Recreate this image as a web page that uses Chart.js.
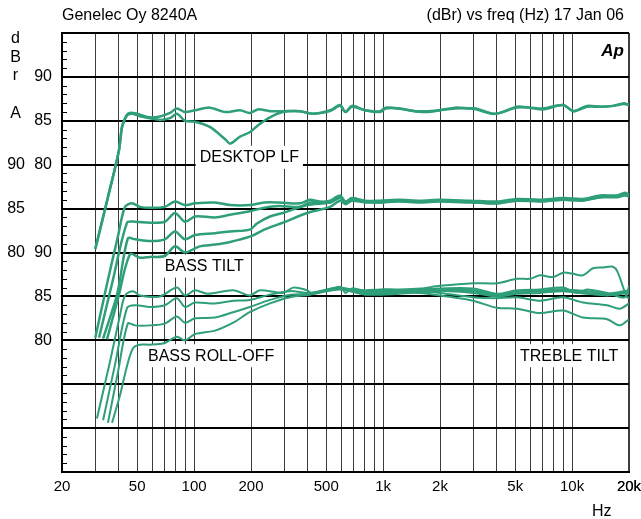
<!DOCTYPE html>
<html lang="en">
<head>
<meta charset="UTF-8">
<title>Genelec Oy 8240A</title>
<script src="https://cdn.jsdelivr.net/npm/chart.js@4"></script>
<style>
  html, body { margin: 0; padding: 0; background: #fff; }
  #wrap { position: relative; width: 641px; height: 519px; }
</style>
</head>
<body>
<div id="wrap"><canvas id="fr"></canvas></div>
<script>
// --- curves, [Hz, dB] read against each group's own dB labels ---
const desktopA = [[30,70.4],[35,76.3],[40,81.6],[41.5,84.3],[43.1,85.3],[44.6,85.8],[47.5,85.9],[51.7,85.7],[58.4,85.4],[66,85.5],[74.6,85.9],[81,86.4],[89.5,86.0],[101,86.2],[121,86.5],[146,86.0],[175,86.2],[197,85.9],[218,86.3],[252,86.1],[295,86.1],[363,86.1],[426,85.8],[524,86.2],[592,86.8],[632,86.0],[684,86.7],[802,86.2],[964,86.1],[1030,86.5],[1214,86.4],[1476,86.1],[1728,86.1],[2000,86.2],[2400,86.5],[2884,86.4],[3100,86.4],[3800,85.8],[4150,85.9],[5110,86.6],[5980,86.5],[7000,86.4],[8950,86.8],[10200,86.1],[12000,86.7],[14100,86.6],[16500,86.7],[18800,87.0],[20000,86.8]];
const desktopB = [[30,70.4],[35,76.3],[40,81.6],[41.5,84.2],[43.1,85.2],[44.6,85.7],[47.5,85.8],[51.7,85.5],[58.4,85.3],[66,85.1],[74.6,85.3],[81,85.8],[89.5,85.0],[101,84.9],[121,84.3],[146,82.9],[155,82.4],[175,83.2],[197,83.7],[218,84.5],[252,85.4],[295,86.0],[363,86.1],[426,85.8],[524,86.1],[592,86.7],[632,86.0],[684,86.6],[802,86.2],[964,86.0],[1030,86.4],[1214,86.4],[1476,86.1],[1728,86.0],[2000,86.2],[2400,86.4],[2884,86.4],[3100,86.3],[3800,85.8],[4150,85.9],[5110,86.5],[5980,86.5],[7000,86.3],[8950,86.8],[10200,86.1],[12000,86.6],[14100,86.6],[16500,86.7],[18800,86.9],[20000,86.8]];

const tilt0 = [[30,70.3],[35,76.9],[39.5,81.8],[43.1,85.2],[46.9,85.6],[51.7,85.2],[58.4,85.1],[70,85.2],[79.2,85.8],[89.5,85.4],[101,85.6],[129,85.7],[155,85.4],[197,85.4],[235,85.7],[281,85.7],[363,85.6],[410,86.0],[464,85.8],[524,85.9],[592,86.5],[632,85.8],[684,86.2],[802,85.9],[964,85.9],[1214,86.0],[1568,85.9],[2000,86.0],[2884,85.9],[4000,85.8],[5110,86.1],[6760,86.0],[8950,86.2],[11400,86.1],[14100,86.5],[17300,86.5],[19000,86.8],[20000,86.6]];
const tilt1 = [[31.4,70.3],[37.2,76.9],[44.2,83.4],[48.7,83.5],[58.4,83.4],[70,83.5],[79.2,84.5],[89.5,83.5],[101,84.1],[129,84.0],[155,84.3],[197,84.7],[235,85.1],[281,85.3],[363,85.2],[410,85.7],[524,85.7],[592,86.3],[632,85.7],[684,86.1],[802,85.8],[964,85.8],[1214,85.9],[1568,85.8],[2000,85.9],[2884,85.8],[4000,85.7],[5110,86.0],[6760,85.9],[8950,86.1],[11400,86.0],[14100,86.4],[17300,86.4],[19000,86.6],[20000,86.5]];
const tilt2 = [[33,70.2],[39.1,75.2],[44.6,81.6],[48.7,81.5],[58.4,81.3],[70,81.5],[79.2,82.4],[89.5,81.5],[101,82.0],[129,82.2],[155,82.4],[197,82.6],[215,83.3],[252,84.1],[295,84.5],[396,85.4],[524,85.7],[592,86.2],[632,85.7],[684,86.0],[802,85.8],[964,85.7],[1214,85.9],[1568,85.8],[2000,85.9],[2884,85.8],[4000,85.6],[5110,86.0],[6760,85.9],[8950,86.0],[11400,86.0],[14100,86.3],[17300,86.4],[19000,86.6],[20000,86.5]];
const tilt3 = [[34.6,70.1],[39.5,74.7],[45.8,79.8],[51.7,79.4],[58.4,79.5],[70,79.6],[79.2,80.7],[89.5,80.0],[107,80.7],[129,80.9],[155,81.2],[197,81.8],[235,82.6],[295,83.4],[396,84.5],[524,85.2],[592,85.9],[632,85.5],[684,85.9],[802,85.7],[964,85.7],[1214,85.8],[1568,85.7],[2000,85.8],[2884,85.7],[4000,85.6],[5110,85.9],[6760,85.8],[8950,86.0],[11400,85.9],[14100,86.3],[17300,86.3],[19000,86.5],[20000,86.4]];

const roll0 = [[30.6,71.1],[36,77.7],[40.5,82.8],[43.1,85.1],[47.5,85.6],[51.7,85.1],[66,85.0],[81,86.0],[89.5,85.1],[101,85.7],[118,85.3],[161,85.7],[197,85.1],[223,85.7],[295,85.4],[335,86.0],[396,85.7],[426,85.3],[592,86.1],[632,85.4],[684,85.9],[802,85.6],[964,85.7],[1214,85.7],[1568,85.8],[2000,85.9],[2990,85.9],[4000,85.3],[5110,85.7],[6760,85.8],[8950,86.0],[10600,85.4],[12000,85.8],[15300,85.4],[19000,84.9],[20000,86.2]];
const roll1 = [[33,70.9],[38.3,77.4],[44.2,83.7],[48.7,84.0],[58.4,83.8],[70,84.0],[81,84.8],[89.5,83.8],[101,84.3],[129,84.2],[161,84.5],[197,84.6],[252,85.2],[322,85.6],[410,85.4],[592,86.0],[802,85.4],[1214,85.6],[2000,85.8],[2990,85.7],[4000,85.2],[5110,85.6],[6760,85.7],[8950,85.8],[12000,85.6],[15300,85.3],[20000,85.7]];
const roll2 = [[35,70.6],[39.5,76.3],[44.6,81.9],[48.7,81.7],[58.4,81.7],[70,81.9],[81,82.7],[89.5,82.0],[101,82.5],[129,82.6],[161,83.2],[197,83.8],[252,84.6],[322,85.2],[410,85.3],[592,85.9],[802,85.3],[1214,85.4],[2000,85.7],[2990,85.6],[4000,85.1],[5110,85.4],[6760,85.6],[8950,85.7],[12000,85.4],[15300,85.2],[20000,85.6]];
const roll3 = [[36.8,70.6],[40.5,73.7],[44.2,77.1],[47.5,79.1],[51.7,79.5],[58.4,79.5],[70,79.7],[81,80.4],[89.5,80.0],[101,80.7],[129,81.1],[161,82.0],[197,83.2],[252,84.2],[322,84.9],[410,85.2],[592,85.8],[802,85.2],[1214,85.3],[2000,85.6],[2990,85.4],[4000,85.0],[5110,85.3],[6760,85.4],[8950,85.6],[12000,85.3],[15300,85.1],[20000,85.4]];

const trebleUp = [[684,85.9],[802,85.7],[964,85.8],[1214,85.8],[1568,85.9],[2000,86.2],[2990,86.5],[4000,86.5],[5110,87.0],[5980,87.0],[6760,87.4],[7920,87.2],[8950,87.7],[10000,87.6],[11400,87.4],[12900,88.2],[14600,88.3],[16300,88.4],[17300,87.9],[19500,84.9],[20000,84.9]];
const trebleDown1 = [[684,85.8],[802,85.5],[964,85.6],[1214,85.6],[1568,85.6],[2000,85.4],[2990,84.9],[4000,84.8],[5110,84.9],[6760,84.5],[8950,84.9],[11400,84.3],[15300,84.0],[17900,83.6],[20000,84.2]];
const trebleDown2 = [[684,85.8],[802,85.5],[964,85.5],[1214,85.5],[1568,85.4],[2000,85.1],[2990,84.5],[4000,83.7],[5110,83.6],[6760,83.1],[8950,83.4],[11400,82.6],[15300,82.4],[17900,81.7],[20000,82.4]];

// tick labels
const freqLabels = [20, 50, 100, 200, 500, 1000, 2000, 5000, 10000, 20000];
const levelLabels = [90, 85, 80];

// each group is shifted down the plot; column = which label column shows its dB
const groups = [
  { name: 'desktop', offset: 45, column: 'inner', curves: [desktopA, desktopB], width: 2.5 },
  { name: 'tilt', offset: 55, column: 'outer', curves: [tilt0, tilt1, tilt2, tilt3], width: 2.5 },
  { name: 'rolloff', offset: 65, column: 'inner', curves: [roll0, roll1, roll2, roll3, trebleUp, trebleDown1, trebleDown2], width: 2 }
];

const captions = [
  { text: 'DESKTOP LF', hz: 107, level: 35.9 },
  { text: 'BASS TILT', hz: 70, level: 23.5 },
  { text: 'BASS ROLL-OFF', hz: 57, level: 13.3 },
  { text: 'TREBLE TILT', hz: 5300, level: 13.3 }
];

const GREEN = '#2f9e7a';
const FONT = "'Liberation Sans', Arial, Helvetica, sans-serif";

// grid at every 1..9 x 10^n between 20 Hz and 20 kHz
const gridFreqs = [];
for (let dec = 10; dec <= 10000; dec *= 10) {
  for (let m = 1; m <= 9; m++) {
    const f = m * dec;
    if (f >= 20 && f <= 20000) gridFreqs.push(f);
  }
}
gridFreqs.push(20000);

const innerLabels = {}, outerLabels = {};
groups.forEach(g => {
  const target = g.column === 'inner' ? innerLabels : outerLabels;
  levelLabels.forEach(db => { target[db - g.offset] = String(db); });
});

function fmtHz(v) {
  return v >= 1000 ? (v / 1000) + 'k' : String(v);
}

const datasets = [];
groups.forEach(g => {
  g.curves.forEach(c => {
    datasets.push({
      data: c.map(p => ({ x: p[0], y: p[1] - g.offset })),
      borderColor: GREEN,
      borderWidth: g.width,
      pointRadius: 0,
      tension: 0.3,
      fill: false
    });
  });
});

const decorations = {
  id: 'decorations',
  beforeDatasetsDraw(chart) {
    const { ctx, chartArea: a, scales: { x, y } } = chart;
    ctx.save();
    // minor 1 dB ticks inside the left edge
    ctx.strokeStyle = '#000';
    ctx.lineWidth = 1;
    for (let v = 1; v < 50; v++) {
      if (v % 5 === 0) continue;
      const py = Math.round(y.getPixelForValue(v)) + 0.5;
      ctx.beginPath();
      ctx.moveTo(a.left, py);
      ctx.lineTo(a.left + 5, py);
      ctx.stroke();
    }
    // group captions on white boxes
    ctx.font = '16px ' + FONT;
    ctx.textBaseline = 'middle';
    ctx.textAlign = 'left';
    captions.forEach(c => {
      const px = x.getPixelForValue(c.hz);
      const py = y.getPixelForValue(c.level);
      const w = ctx.measureText(c.text).width;
      ctx.fillStyle = '#fff';
      ctx.fillRect(px - 4, py - 11, w + 8, 23);
      ctx.fillStyle = '#000';
      ctx.fillText(c.text, px, py + 1);
    });
    ctx.restore();
  },
  afterDraw(chart) {
    const { ctx, chartArea: a } = chart;
    ctx.save();
    ctx.fillStyle = '#000';
    ctx.font = '16px ' + FONT;
    ctx.textBaseline = 'alphabetic';
    ctx.textAlign = 'left';
    ctx.fillText('Genelec Oy 8240A', a.left, 19.5);
    ctx.textAlign = 'right';
    ctx.fillText('(dBr) vs freq (Hz) 17 Jan 06', 624, 19.5);
    ctx.textAlign = 'center';
    [['d', 43], ['B', 62], ['r', 80], ['A', 118]].forEach(([t, by]) => ctx.fillText(t, 15.5, by));
    ctx.textAlign = 'left';
    ctx.fillText('Hz', 592, 515.5);
    ctx.font = 'italic bold 17px ' + FONT;
    ctx.textAlign = 'right';
    ctx.fillText('Ap', a.right - 5, 55.5);
    ctx.restore();
  }
};

new Chart(document.getElementById('fr'), {
  type: 'line',
  data: { datasets },
  options: {
    responsive: true,
    maintainAspectRatio: false,
    animation: false,
    devicePixelRatio: 1,
    layout: { padding: { top: 33, right: 12, left: 0, bottom: 0 } },
    plugins: { legend: { display: false }, tooltip: { enabled: false } },
    scales: {
      x: {
        type: 'logarithmic',
        min: 20,
        max: 20000,
        afterBuildTicks: s => { s.ticks = gridFreqs.map(v => ({ value: v })); },
        // end labels may hang over the plot edges, as in the original
        afterFit: s => { s.height = 47; s.paddingLeft = 0; s.paddingRight = 0; },
        ticks: {
          autoSkip: false,
          maxRotation: 0,
          padding: 6,
          color: '#000',
          font: { family: FONT, size: 15 },
          callback: v => freqLabels.includes(v) ? fmtHz(v) : ''
        },
        grid: {
          color: '#3c3c3c',
          lineWidth: c => (c.tick && c.tick.value === 20000) ? 2 : 1,
          drawTicks: false
        },
        border: { display: true, color: '#000', width: 2 }
      },
      y: {
        type: 'linear',
        position: 'left',
        weight: 0,
        min: 0,
        max: 50,
        afterFit: s => { s.width = 35; s.paddingTop = 0; s.paddingBottom = 0; },
        ticks: {
          stepSize: 5,
          padding: 10,
          color: '#000',
          font: { family: FONT, size: 16 },
          callback: v => innerLabels[v] || ''
        },
        grid: { color: '#000', lineWidth: 2, drawTicks: false },
        border: { display: true, color: '#000', width: 2 }
      },
      y2: {
        type: 'linear',
        position: 'left',
        weight: 1,
        min: 0,
        max: 50,
        afterFit: s => { s.width = 27; s.paddingTop = 0; s.paddingBottom = 0; },
        ticks: {
          stepSize: 5,
          padding: 2,
          color: '#000',
          font: { family: FONT, size: 16 },
          callback: v => outerLabels[v] || ''
        },
        grid: { display: false, drawTicks: false },
        border: { display: false }
      }
    }
  },
  plugins: [decorations]
});
</script>
</body>
</html>
